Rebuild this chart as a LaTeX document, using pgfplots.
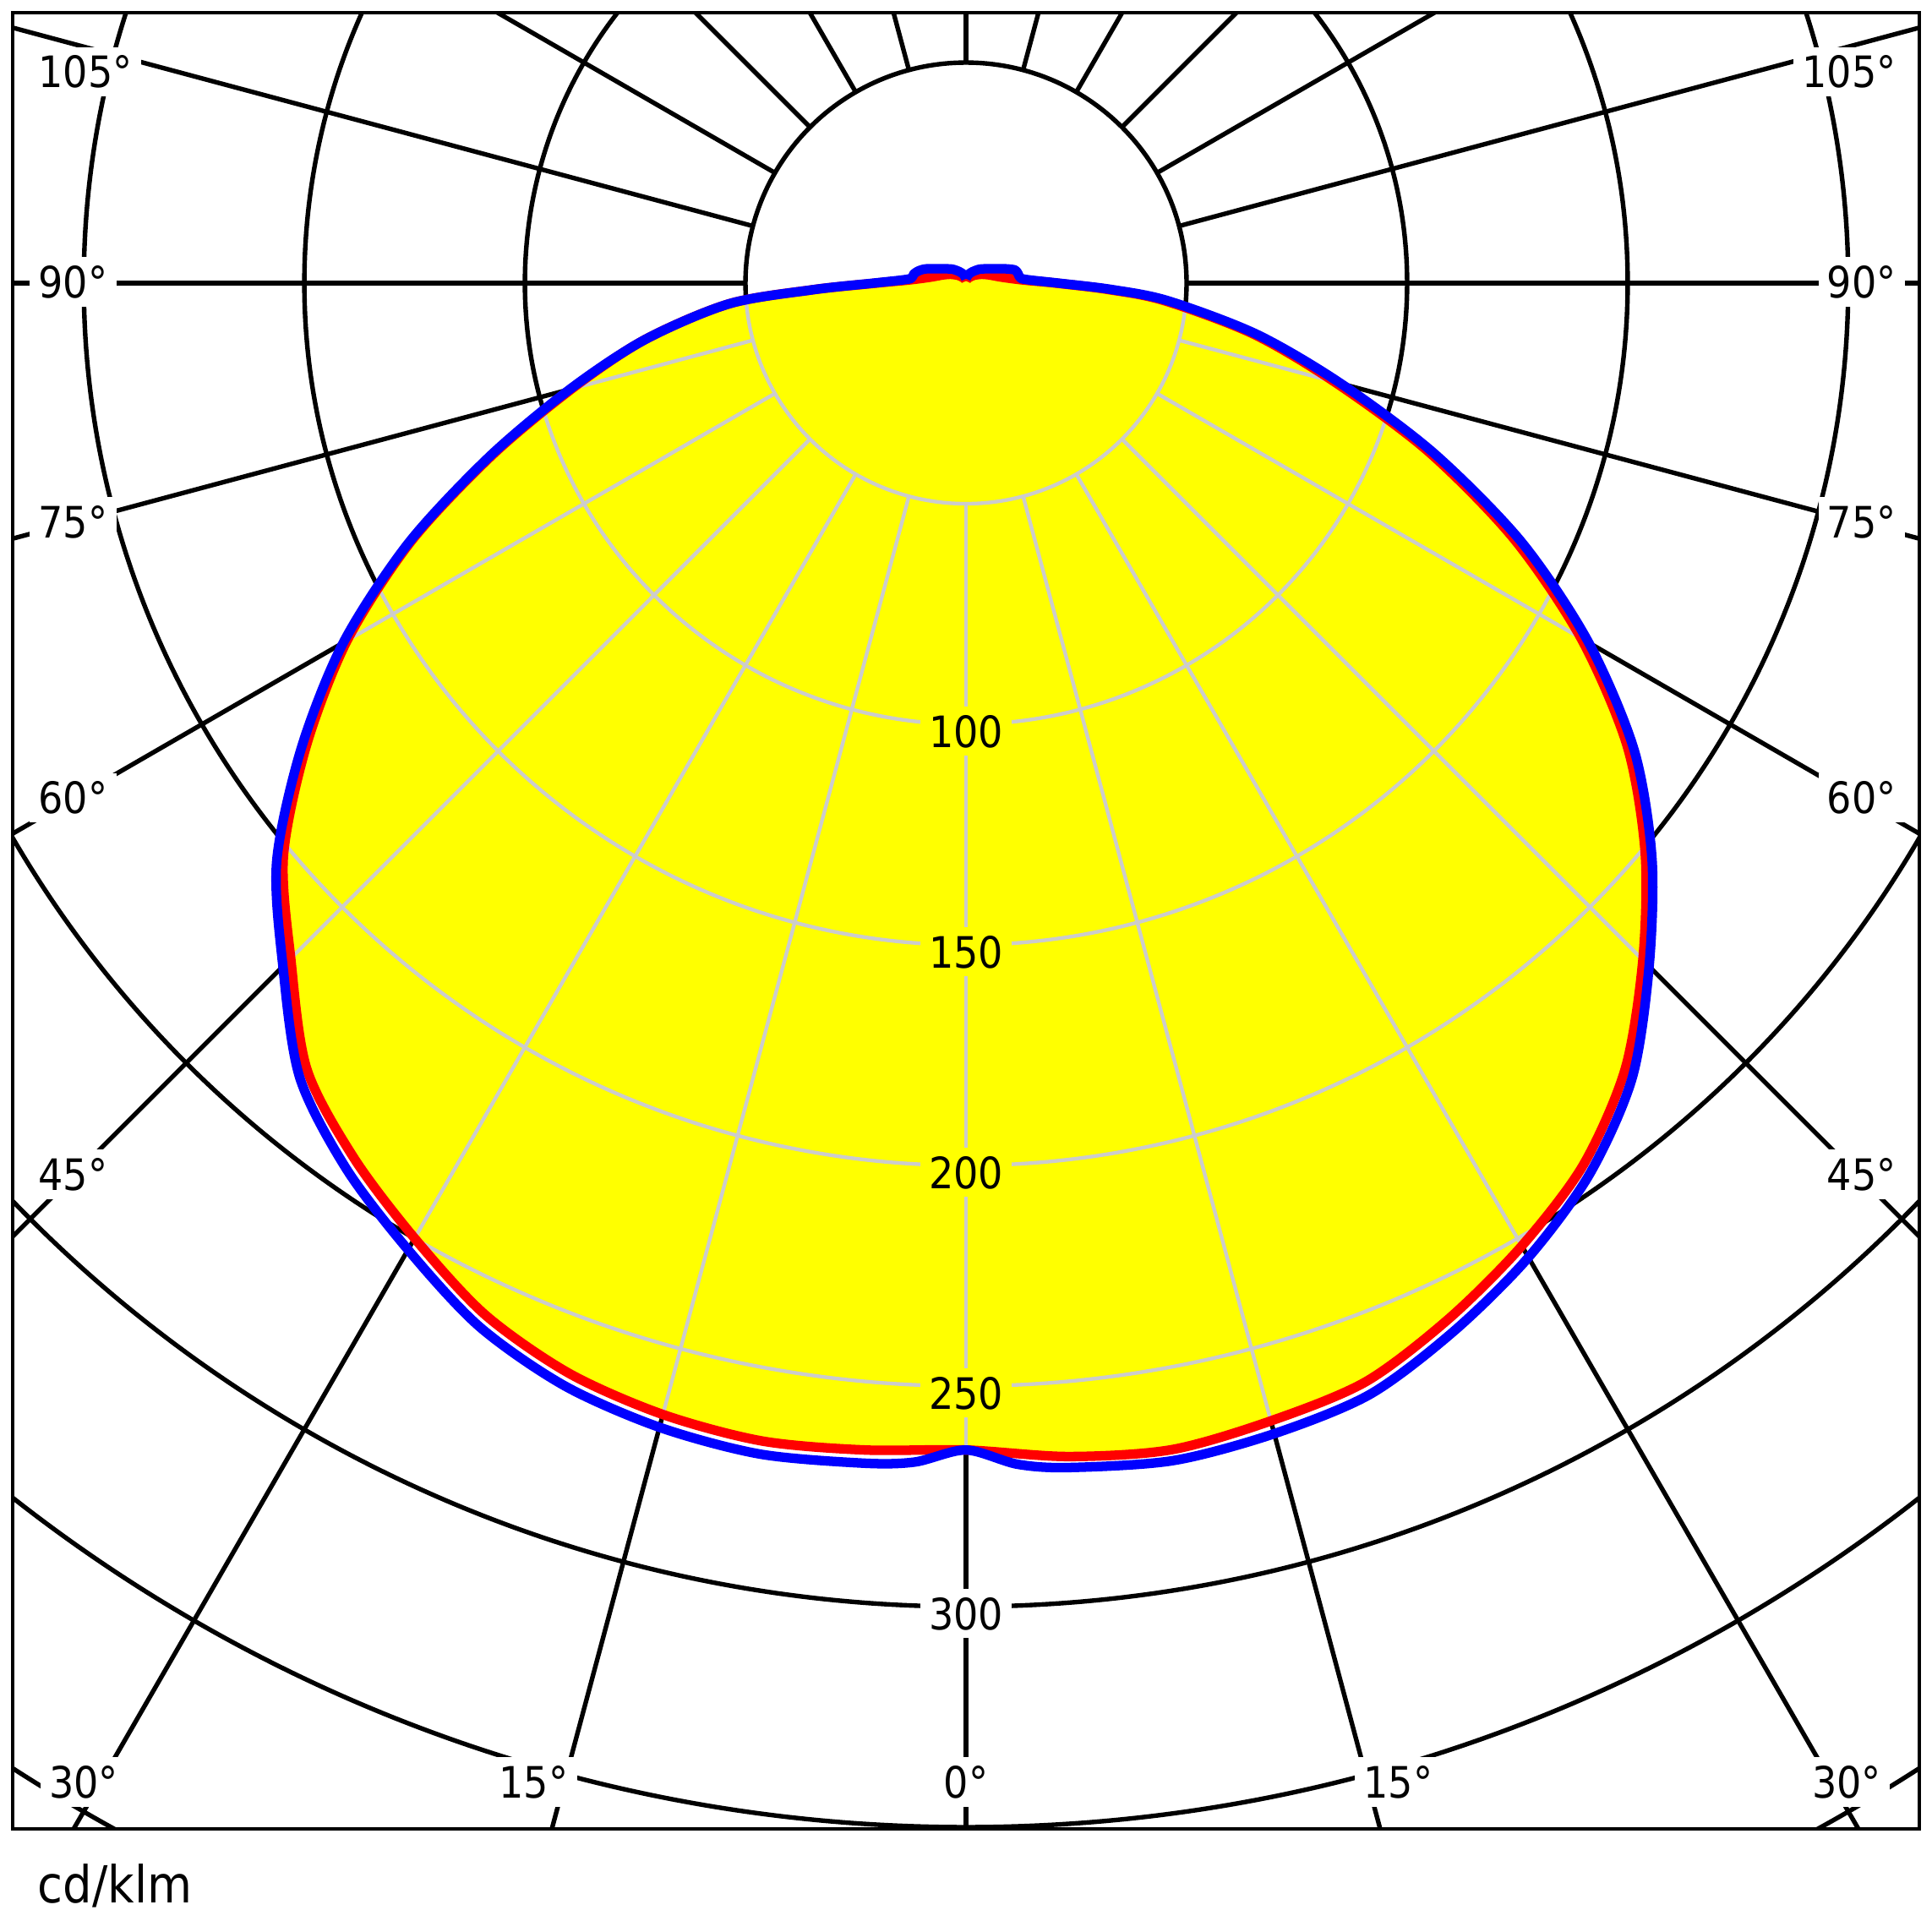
\documentclass[border=0pt]{standalone}
\usepackage{pgfplots}
\pgfplotsset{compat=1.18}
\usepackage{pgfplotstable}
\usepackage{fontspec}
\setmainfont{DejaVu Sans Condensed}
\usetikzlibrary{calc}
\definecolor{gridgray}{RGB}{204,204,204}
\definecolor{fillyellow}{RGB}{255,255,0}
\definecolor{cred}{RGB}{255,0,0}
\definecolor{cblue}{RGB}{0,0,255}

\pgfplotstableread{
a r
-180 0.5
-165 1
-150 1.5
-135 2.5
-120 4
-110 5.5
-105 6.5
-100 8
-95 11
-92.5 14
-90 20.5
-87.5 35
-85 54
-80 74
-75 92.5
-70 114.5
-65 139
-60 162
-55 182.5
-50 202
-45 216.5
-40 232.5
-35 242
-30 250
-25 258
-20 263
-15 265.5
-10 266.5
-5 265.5
0 264.5
5 267
10 268.5
15 267
20 265
25 259
30 252
35 244
40 232.5
45 217
50 201
55 183
60 161
65 137
70 111.5
75 86.5
80 66
85 45
87.5 32
90 20.5
92.5 14
95 11
100 8
105 6.5
110 5.5
120 4
135 2.5
150 1.5
165 1
180 0.5
}\redtable

\pgfplotstableread{
a r
-180 1
-165 2
-150 3
-135 4.5
-120 6.5
-110 9.5
-105 11
-100 12
-95 12.5
-92.5 15
-90 21
-87.5 35
-85 54
-80 74
-75 93
-70 115
-65 139.5
-60 163
-55 184
-50 204
-45 219
-40 235
-35 245
-30 253
-25 261
-20 266
-15 268.5
-10 269.5
-5 268.5
-2.5 267.5
0 264.5
2.5 268
5 269.5
10 271
15 270
20 268
25 262
30 255
35 246.5
40 235
45 219
50 203
55 185
60 163
65 139
70 113
75 88
80 67
85 46
87.5 33
90 21
92.5 15
95 12.5
100 12
105 11.5
110 9.5
120 6.5
135 4.5
150 3
165 2
180 1
}\bluetable

\newcommand{\polargrid}[2]{%
  \foreach \r in {50,100,...,400}{%
    \draw[path picture={}, fill=none, draw=#1, line width=#2] (axis cs:0,0) circle[radius=\r];}%
  \foreach \a in {0,15,...,180}{%
    \draw[path picture={}, fill=none, draw=#1, line width=#2] (axis cs:{50*sin(\a)},{-50*cos(\a)}) -- (axis cs:{500*sin(\a)},{-500*cos(\a)});%
    \draw[path picture={}, fill=none, draw=#1, line width=#2] (axis cs:{-50*sin(\a)},{-50*cos(\a)}) -- (axis cs:{-500*sin(\a)},{-500*cos(\a)});}%
}

\tikzset{lab/.style={font=\fontsize{10}{12}\selectfont, inner sep=2pt, text depth=0pt, fill=white, text=black}}

\begin{document}
\begin{tikzpicture}
\begin{axis}[name=ax,
  width=15.48cm, height=14.74cm, scale only axis,
  xmin=-216.2, xmax=216.2, ymin=-350.3, ymax=61.4,
  xtick=\empty, ytick=\empty,
  axis line style={line width=0.77pt, black},
  clip=true]
\pgfplotsextra{\polargrid{black}{1.05pt}}
\addplot[fill=fillyellow, draw=none, forget plot, smooth,
  path picture={\polargrid{gridgray}{0.85pt}}]
  table[x expr={\thisrow{r}*sin(\thisrow{a})}, y expr={-\thisrow{r}*cos(\thisrow{a})}] {\redtable};
\addplot[color=cred, line width=2.2pt, line join=round, smooth]
  table[x expr={\thisrow{r}*sin(\thisrow{a})}, y expr={-\thisrow{r}*cos(\thisrow{a})}] {\redtable};
\addplot[color=cblue, line width=2.2pt, line join=round, smooth]
  table[x expr={\thisrow{r}*sin(\thisrow{a})}, y expr={-\thisrow{r}*cos(\thisrow{a})}] {\bluetable};
% value labels
\node[lab, fill=fillyellow, anchor=base] at (axis cs:0,-105.2) {100};
\node[lab, fill=fillyellow, anchor=base] at (axis cs:0,-155.2) {150};
\node[lab, fill=fillyellow, anchor=base] at (axis cs:0,-205.2) {200};
\node[lab, fill=fillyellow, anchor=base] at (axis cs:0,-255.2) {250};
\node[lab, anchor=base] at (axis cs:0,-305.2) {300};
% angle labels left
\node[lab, anchor=base west] at (axis cs:-212.4,44.3) {105°};
\node[lab, anchor=base west] at (axis cs:-212.4,-3.3) {90°};
\node[lab, anchor=base west] at (axis cs:-212.4,-57.7) {75°};
\node[lab, anchor=base west] at (axis cs:-212.4,-120.3) {60°};
\node[lab, anchor=base west] at (axis cs:-212.4,-205.7) {45°};
\node[lab, anchor=base west] at (axis cs:-210.0,-343.4) {30°};
\node[lab, anchor=base] at (axis cs:-98,-343.4) {15°};
\node[lab, anchor=base] at (axis cs:0,-343.4) {0°};
% angle labels right
\node[lab, anchor=base east] at (axis cs:213.0,44.3) {105°};
\node[lab, anchor=base east] at (axis cs:213.0,-3.3) {90°};
\node[lab, anchor=base east] at (axis cs:213.0,-57.7) {75°};
\node[lab, anchor=base east] at (axis cs:213.0,-120.3) {60°};
\node[lab, anchor=base east] at (axis cs:213.0,-205.7) {45°};
\node[lab, anchor=base east] at (axis cs:209.6,-343.4) {30°};
\node[lab, anchor=base] at (axis cs:98,-343.4) {15°};
\end{axis}
\node[anchor=base west, inner sep=0pt, font=\fontsize{11.8}{14}\selectfont] at ($(ax.south west)+(0.2cm,-0.604cm)$) {cd/klm};
\path ($(ax.south west)+(-0.1cm,-0.84cm)$) rectangle ($(ax.north east)+(0.1cm,0.1cm)$);
\end{tikzpicture}
\end{document}
